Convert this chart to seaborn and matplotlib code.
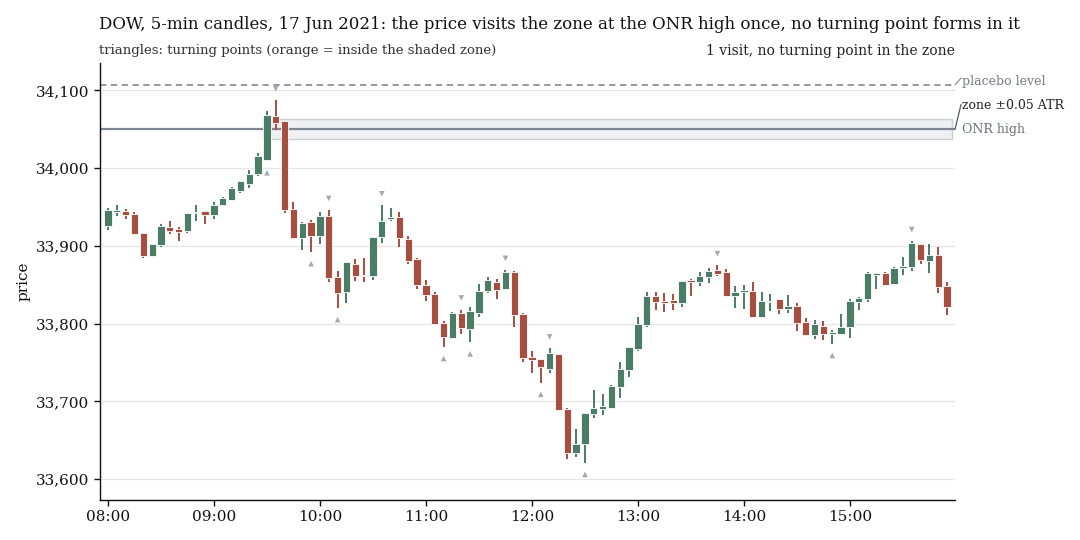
import numpy as np
import pandas as pd
import matplotlib
matplotlib.use("Agg")
import matplotlib.pyplot as plt
import matplotlib.transforms as mtransforms
import seaborn as sns

# ---------------- data ----------------
opens = [33925, 33944, 33945, 33941, 33916, 33887, 33901, 33924, 33922, 33919, 33942, 33945,
         33940, 33953, 33959, 33971, 33980, 33992, 34010, 34067, 34060, 33947, 33910, 33931,
         33913, 33939, 33860, 33841, 33877, 33862, 33861, 33911, 33934, 33937, 33909, 33883,
         33850, 33838, 33801, 33782, 33814, 33793, 33813, 33842, 33854, 33845, 33867, 33812,
         33757, 33754, 33742, 33761, 33690, 33633, 33645, 33684, 33690, 33692, 33718, 33740,
         33767, 33798, 33836, 33829, 33830, 33826, 33856, 33853, 33860, 33869, 33866, 33835,
         33841, 33842, 33808, 33828, 33831, 33819, 33822, 33802, 33785, 33797, 33786, 33786,
         33796, 33828, 33832, 33863, 33865, 33851, 33871, 33873, 33903, 33880, 33888, 33848]
highs = [33949, 33953, 33948, 33944, 33917, 33903, 33928, 33932, 33924, 33942, 33952, 33945,
         33956, 33963, 33976, 33984, 33997, 34020, 34073, 34087, 34061, 33956, 33931, 33933,
         33943, 33946, 33868, 33879, 33883, 33885, 33912, 33952, 33949, 33944, 33913, 33885,
         33856, 33840, 33803, 33815, 33818, 33821, 33851, 33860, 33858, 33869, 33868, 33814,
         33765, 33754, 33768, 33761, 33691, 33665, 33685, 33714, 33710, 33721, 33750, 33770,
         33808, 33840, 33840, 33839, 33838, 33855, 33858, 33866, 33872, 33875, 33870, 33848,
         33850, 33854, 33841, 33838, 33831, 33837, 33826, 33807, 33805, 33803, 33792, 33812,
         33832, 33834, 33866, 33865, 33867, 33873, 33886, 33906, 33903, 33903, 33898, 33854]
lows = [33921, 33939, 33935, 33914, 33885, 33886, 33898, 33915, 33906, 33917, 33932, 33928,
        33935, 33953, 33959, 33968, 33974, 33990, 34009, 34049, 33942, 33909, 33895, 33892,
        33902, 33854, 33820, 33827, 33855, 33854, 33856, 33904, 33932, 33898, 33877, 33844,
        33829, 33799, 33770, 33782, 33787, 33776, 33808, 33839, 33831, 33844, 33795, 33750,
        33737, 33724, 33736, 33688, 33626, 33629, 33621, 33679, 33682, 33692, 33704, 33731,
        33765, 33795, 33817, 33815, 33818, 33821, 33836, 33848, 33852, 33861, 33835, 33820,
        33819, 33808, 33808, 33816, 33812, 33813, 33791, 33785, 33780, 33779, 33774, 33786,
        33781, 33818, 33828, 33845, 33849, 33851, 33862, 33868, 33877, 33865, 33839, 33811]
closes = [33946, 33945, 33940, 33915, 33887, 33903, 33925, 33919, 33918, 33942, 33944, 33940,
          33953, 33962, 33974, 33983, 33992, 34016, 34068, 34058, 33946, 33910, 33930, 33913,
          33938, 33859, 33839, 33879, 33861, 33861, 33912, 33932, 33937, 33910, 33880, 33850,
          33837, 33800, 33783, 33814, 33794, 33816, 33842, 33856, 33843, 33866, 33811, 33756,
          33753, 33744, 33762, 33689, 33633, 33645, 33685, 33692, 33694, 33720, 33742, 33770,
          33800, 33836, 33828, 33827, 33826, 33855, 33854, 33861, 33868, 33864, 33835, 33840,
          33843, 33808, 33829, 33829, 33819, 33822, 33801, 33785, 33799, 33786, 33789, 33796,
          33829, 33833, 33865, 33865, 33850, 33871, 33874, 33904, 33882, 33888, 33847, 33821]

tp_high_idx = [19, 25, 31, 40, 45, 50, 69, 91]
tp_low_idx = [18, 23, 26, 38, 41, 49, 54, 82]

onr_high = 34050
zone_half = 13
placebo_level = 34107
zone_start_idx = 18

tick_pos = [0, 12, 24, 36, 48, 60, 72, 84]
tick_labels = ["08:00", "09:00", "10:00", "11:00", "12:00", "13:00", "14:00", "15:00"]

title = "DOW, 5-min candles, 17 Jun 2021: the price visits the zone at the ONR high once, no turning point forms in it"
subtitle_left = "triangles: turning points (orange = inside the shaded zone)"
subtitle_right = "1 visit, no turning point in the zone"

# ---------------- style ----------------
sns.set_theme(style="ticks")
plt.rcParams["font.family"] = ["DejaVu Serif"]

GREEN = "#4a7c66"
RED = "#a64e40"
TRI = "#a3a8b2"

df = pd.DataFrame({"open": opens, "high": highs, "low": lows, "close": closes})
df["idx"] = np.arange(len(df))
df["up"] = df["close"] >= df["open"]
df["color"] = np.where(df["up"], GREEN, RED)

fig = plt.figure(figsize=(10.8, 5.4), dpi=100)
ax = fig.add_axes([0.0926, 0.074, 0.7917, 0.809])

ax.set_xlim(-0.9, 95.9)
ax.set_ylim(33573, 34135)
ax.yaxis.grid(True, color="#e5e5e5", linewidth=0.9, zorder=0)
ax.xaxis.grid(False)
ax.set_axisbelow(True)

# zone
ax.add_patch(plt.Rectangle((zone_start_idx - 0.5, onr_high - zone_half),
                           95.5 - (zone_start_idx - 0.5), 2 * zone_half,
                           facecolor="#eef0f3", edgecolor="#c9cdd3", linewidth=1.0, zorder=1))
ax.axhline(onr_high, color="#7f8792", linewidth=1.6, zorder=2)
ax.axhline(placebo_level, color="#8c919b", linewidth=1.3, linestyle=(0, (3.5, 2.5)), zorder=2)

# wicks
ax.vlines(df["idx"], df["low"], df["high"], colors=df["color"], linewidth=1.4, zorder=3)
# bodies
body_bottom = np.minimum(df["open"], df["close"])
body_h = np.maximum(np.abs(df["close"] - df["open"]), 1.5)
ax.bar(df["idx"], body_h, bottom=body_bottom, width=0.82, color=df["color"],
       edgecolor="white", linewidth=0.6, zorder=4)

# turning points
tp = pd.DataFrame({
    "x": tp_high_idx + tp_low_idx,
    "y": [highs[i] + 15 for i in tp_high_idx] + [lows[i] - 15 for i in tp_low_idx],
    "kind": ["high"] * len(tp_high_idx) + ["low"] * len(tp_low_idx),
})
sns.scatterplot(data=tp, x="x", y="y", style="kind", markers={"high": "v", "low": "^"},
                color=TRI, s=16, linewidth=0, legend=False, ax=ax, zorder=5)

# axes
ax.set_xticks(tick_pos)
ax.set_xticklabels(tick_labels)
ax.yaxis.set_major_formatter(matplotlib.ticker.FuncFormatter(lambda v, p: f"{v:,.0f}"))
ax.set_yticks([33600, 33700, 33800, 33900, 34000, 34100])
ax.tick_params(axis="both", labelsize=11, length=4, width=1, colors="#111111")
ax.set_xlabel("")
ax.set_ylabel("price", fontsize=11, color="#111111")
for s in ["top", "right"]:
    ax.spines[s].set_visible(False)
for s in ["left", "bottom"]:
    ax.spines[s].set_color("#111111")
    ax.spines[s].set_linewidth(1.0)

# right-side labels with connectors
trans = mtransforms.blended_transform_factory(ax.transAxes, ax.transData)
dx = 6 / 855.0
ax.plot([1.0, 1.0 + dx], [placebo_level, placebo_level + 9], transform=trans,
        color="#8c919b", lw=0.9, clip_on=False)
ax.plot([1.0, 1.0 + dx], [onr_high, onr_high + 32], transform=trans,
        color="#555a62", lw=0.9, clip_on=False)
ax.text(1.0 + 7 / 855.0, placebo_level + 5, "placebo level", transform=trans,
        ha="left", va="center", fontsize=9, color="#777c85", clip_on=False)
ax.text(1.0 + 7 / 855.0, onr_high + 31, "zone \u00b10.05 ATR", transform=trans,
        ha="left", va="center", fontsize=9, color="#222222", clip_on=False)
ax.text(1.0 + 7 / 855.0, onr_high, "ONR high", transform=trans,
        ha="left", va="center", fontsize=9, color="#6b717b", clip_on=False)

# titles
fig.text(0.0917, 0.955, title, ha="left", va="center", fontsize=12, color="#111111")
fig.text(0.0917, 0.906, subtitle_left, ha="left", va="center", fontsize=9.5, color="#333333")
fig.text(0.884, 0.906, subtitle_right, ha="right", va="center", fontsize=10, color="#222222")

fig.savefig("out.png", dpi=100)
